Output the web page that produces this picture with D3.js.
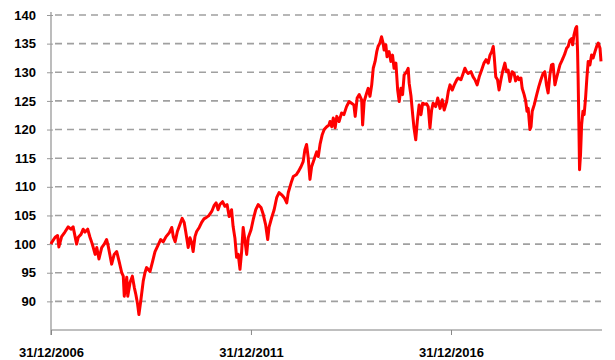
<!DOCTYPE html>
<html>
<head>
<meta charset="utf-8">
<script src="https://cdn.jsdelivr.net/npm/d3@7"></script>
<style>
  html, body { margin: 0; padding: 0; background: #fff; }
  svg { display: block; }
  .tick text { font-family: "Liberation Sans", Arial, sans-serif; font-weight: bold; font-size: 13px; fill: #000; }
</style>
</head>
<body>
<svg id="chart" width="615" height="360"></svg>
<script>
// Index level, rebased to 100 on 31/12/2006
const dates = [
  "2006-12-31","2007-01-07","2007-02-07","2007-03-01","2007-03-13","2007-04-07","2007-05-07","2007-06-06","2007-07-01","2007-07-21",
  "2007-08-22","2007-09-06","2007-10-01","2007-10-21","2007-11-07","2007-12-01","2007-12-22","2008-01-07","2008-01-21","2008-02-07",
  "2008-02-22","2008-03-13","2008-04-07","2008-04-30","2008-05-22","2008-06-06","2008-07-07","2008-07-30","2008-08-22","2008-09-13",
  "2008-10-07","2008-10-21","2008-10-30","2008-11-22","2008-12-01","2008-12-22","2009-01-12","2009-01-30","2009-02-13","2009-03-01",
  "2009-03-13","2009-04-01","2009-04-21","2009-05-07","2009-05-22","2009-06-22","2009-07-16","2009-08-07","2009-09-06","2009-09-28",
  "2009-10-21","2009-11-16","2009-12-16","2010-01-07","2010-01-21","2010-02-07","2010-02-27","2010-03-22","2010-04-12","2010-04-30",
  "2010-05-16","2010-06-06","2010-06-22","2010-07-07","2010-07-21","2010-08-07","2010-08-22","2010-09-15","2010-10-07","2010-10-28",
  "2010-11-22","2010-12-13","2011-01-07","2011-01-28","2011-02-16","2011-03-06","2011-03-22","2011-04-16","2011-05-07","2011-05-27",
  "2011-06-15","2011-07-07","2011-07-21","2011-08-07","2011-08-22","2011-09-06","2011-09-22","2011-10-07","2011-10-21","2011-11-07",
  "2011-11-22","2011-12-06","2012-01-01","2012-01-21","2012-02-13","2012-03-06","2012-04-01","2012-04-21","2012-05-13","2012-06-01",
  "2012-06-13","2012-07-07","2012-07-30","2012-08-22","2012-09-13","2012-10-07","2012-10-30","2012-11-22","2012-12-06","2013-01-01",
  "2013-01-21","2013-02-16","2013-03-06","2013-04-01","2013-04-21","2013-05-07","2013-05-22","2013-06-06","2013-06-22","2013-07-07",
  "2013-07-28","2013-08-22","2013-09-06","2013-09-22","2013-10-12","2013-10-30","2013-11-22","2013-12-13","2013-12-22","2014-01-07",
  "2014-01-21","2014-02-07","2014-02-22","2014-03-15","2014-04-07","2014-04-28","2014-05-22","2014-06-15","2014-07-07","2014-07-28",
  "2014-08-09","2014-08-27","2014-09-15","2014-10-07","2014-10-16","2014-10-30","2014-11-22","2014-12-06","2014-12-22","2015-01-07",
  "2015-01-21","2015-02-07","2015-02-22","2015-03-06","2015-03-22","2015-04-07","2015-04-21","2015-04-30","2015-05-16","2015-05-27",
  "2015-06-15","2015-07-01","2015-07-16","2015-07-30","2015-08-16","2015-09-01","2015-09-15","2015-10-01","2015-10-16","2015-10-30",
  "2015-11-22","2015-12-06","2015-12-15","2016-01-01","2016-01-16","2016-01-28","2016-02-13","2016-02-27","2016-03-15","2016-04-01",
  "2016-04-16","2016-05-07","2016-05-22","2016-06-06","2016-06-22","2016-07-07","2016-07-21","2016-08-13","2016-09-01","2016-09-22",
  "2016-10-12","2016-10-30","2016-11-22","2016-12-06","2016-12-22","2017-01-12","2017-01-30","2017-02-22","2017-03-06","2017-04-01",
  "2017-04-21","2017-05-07","2017-05-22","2017-06-06","2017-07-01","2017-07-21","2017-08-07","2017-08-27","2017-09-15","2017-10-07",
  "2017-10-28","2017-11-16","2017-12-06","2017-12-22","2018-01-07","2018-01-21","2018-01-30","2018-02-13","2018-03-01","2018-03-15",
  "2018-04-01","2018-04-16","2018-05-07","2018-05-22","2018-06-06","2018-06-22","2018-07-12","2018-07-30","2018-08-13","2018-09-01",
  "2018-09-13","2018-10-01","2018-10-12","2018-10-30","2018-11-13","2018-11-25","2018-12-06","2018-12-22","2019-01-01","2019-01-12",
  "2019-01-30","2019-02-22","2019-03-13","2019-04-01","2019-04-21","2019-05-07","2019-05-22","2019-06-06","2019-06-22","2019-07-07",
  "2019-07-21","2019-08-07","2019-08-22","2019-09-06","2019-09-22","2019-10-07","2019-10-21","2019-11-07","2019-11-22","2019-12-06",
  "2019-12-22","2020-01-07","2020-01-16","2020-01-28","2020-02-13","2020-02-22","2020-03-01","2020-03-06","2020-03-13","2020-03-19",
  "2020-03-28","2020-04-07","2020-04-19","2020-04-30","2020-05-13","2020-05-25","2020-06-06","2020-06-22","2020-07-07","2020-07-21",
  "2020-08-07","2020-08-22","2020-09-06","2020-09-22","2020-10-01"
];
const values = [
  100.0,100.3,101.2,101.5,99.5,101.3,102.1,103.0,102.6,103.0,
  100.0,101.2,101.7,102.6,102.1,102.6,101.2,100.3,99.4,98.2,
  99.4,97.4,99.4,100.0,100.8,99.6,96.5,98.2,98.7,97.0,
  95.0,94.4,90.9,94.2,90.9,93.3,94.4,92.4,91.2,89.5,
  87.7,90.4,93.5,95.0,95.9,95.2,97.0,98.7,99.9,100.8,
  100.4,101.3,102.0,102.9,101.3,100.4,102.2,103.4,104.5,103.8,
  102.0,99.4,101.1,100.3,98.7,101.3,102.2,102.9,103.8,104.4,
  104.7,105.0,105.7,106.7,107.2,106.0,106.9,107.4,106.6,106.9,
  104.8,106.0,103.1,101.0,97.7,98.2,95.6,98.7,102.9,100.5,
  98.2,101.1,102.5,104.3,106.0,106.9,106.4,105.2,103.4,100.8,
  102.9,104.6,106.0,108.1,109.0,108.6,108.1,107.2,109.0,110.7,
  111.8,112.1,112.6,113.5,114.4,116.5,117.4,115.1,111.3,113.5,
  114.7,116.1,115.3,117.4,119.1,120.0,120.5,120.8,121.4,120.5,
  122.0,120.3,122.3,121.4,122.9,122.6,124.0,124.9,124.6,124.3,
  122.3,125.5,126.1,125.2,120.8,124.9,126.4,127.2,125.8,127.8,
  130.7,131.9,133.6,134.5,135.1,136.2,135.1,133.9,134.8,132.7,
  133.6,131.9,133.0,130.7,131.6,126.9,124.9,127.2,126.1,129.5,
  130.1,130.7,128.1,125.8,122.6,120.3,118.2,121.4,124.3,122.6,
  124.6,124.4,124.5,124.0,120.3,123.4,124.6,124.0,125.5,123.7,
  125.2,123.4,124.9,126.6,127.8,126.9,127.8,128.7,129.0,128.7,
  129.8,130.7,130.1,129.8,130.1,129.2,128.7,127.8,129.2,130.4,
  131.6,132.2,131.6,133.0,133.6,134.5,132.7,129.2,128.7,126.9,
  128.7,130.1,131.6,130.1,130.4,128.4,130.1,129.8,128.5,129.2,
  128.7,129.0,127.2,126.1,125.0,123.2,123.7,120.0,120.5,123.2,
  124.3,126.1,127.5,128.7,129.8,130.1,127.8,126.4,129.5,131.3,
  131.4,127.8,129.0,130.1,131.3,131.9,132.5,133.3,134.2,134.5,
  135.6,135.9,134.8,136.5,137.7,138.0,133.6,129.0,120.8,113.0,
  115.6,120.8,123.2,122.6,125.5,129.0,131.9,131.3,133.0,132.5,
  133.6,134.5,135.1,134.2,131.9
];

const yTicks = [90, 95, 100, 105, 110, 115, 120, 125, 130, 135, 140];
const xTickDates = ["2006-12-31", "2011-12-31", "2016-12-31"];
const xTickLabels = ["31/12/2006", "31/12/2011", "31/12/2016"];
const xDomain = ["2006-12-31", "2020-10-01"];
const yDomain = [85, 140];

const parse = d3.timeParse("%Y-%m-%d");
const series = dates.map((d, i) => ({ date: parse(d), value: values[i] }));

const svg = d3.select("#chart");
const plot = { left: 51, right: 601, top: 15, bottom: 330 };

const x = d3.scaleTime().domain(xDomain.map(parse)).range([plot.left, plot.right]);
const y = d3.scaleLinear().domain(yDomain).range([plot.bottom, plot.top]);

// dashed horizontal gridlines
svg.append("g")
  .selectAll("line")
  .data(yTicks)
  .join("line")
  .attr("x1", plot.left + 4).attr("x2", plot.right)
  .attr("y1", d => y(d)).attr("y2", d => y(d))
  .attr("stroke", "#a0a0a0")
  .attr("stroke-width", 1.6)
  .attr("stroke-dasharray", "7,5");

// y axis
const yAxis = svg.append("g")
  .attr("transform", `translate(${plot.left},0)`)
  .call(d3.axisLeft(y).tickValues(yTicks).tickSize(4).tickPadding(11).tickFormat(d3.format("d")));
yAxis.select(".domain").attr("stroke", "#999").attr("stroke-width", 1.3)
  .attr("d", `M0,${plot.top - 3}V${plot.bottom + 5}`);
yAxis.selectAll(".tick line").attr("stroke", "#999").attr("x2", -4).attr("x1", 2);

// x axis
const tickMap = new Map(xTickDates.map((d, i) => [+parse(d), xTickLabels[i]]));
const xAxis = svg.append("g")
  .attr("transform", `translate(0,${plot.bottom})`)
  .call(d3.axisBottom(x).tickValues(xTickDates.map(parse)).tickSize(5).tickPadding(10)
    .tickFormat(d => tickMap.get(+d)));
xAxis.select(".domain").attr("stroke", "#aaa").attr("stroke-width", 1.6)
  .attr("d", `M${plot.left},0H${plot.right + 1}`);
xAxis.selectAll(".tick line").attr("stroke", "#888");
xAxis.selectAll(".tick text").attr("dy", "0.9em");

// index line
const line = d3.line()
  .x(d => x(d.date))
  .y(d => y(d.value));

svg.append("path")
  .datum(series)
  .attr("fill", "none")
  .attr("stroke", "#ff0000")
  .attr("stroke-width", 3)
  .attr("stroke-linejoin", "round")
  .attr("d", line);
</script>
</body>
</html>
